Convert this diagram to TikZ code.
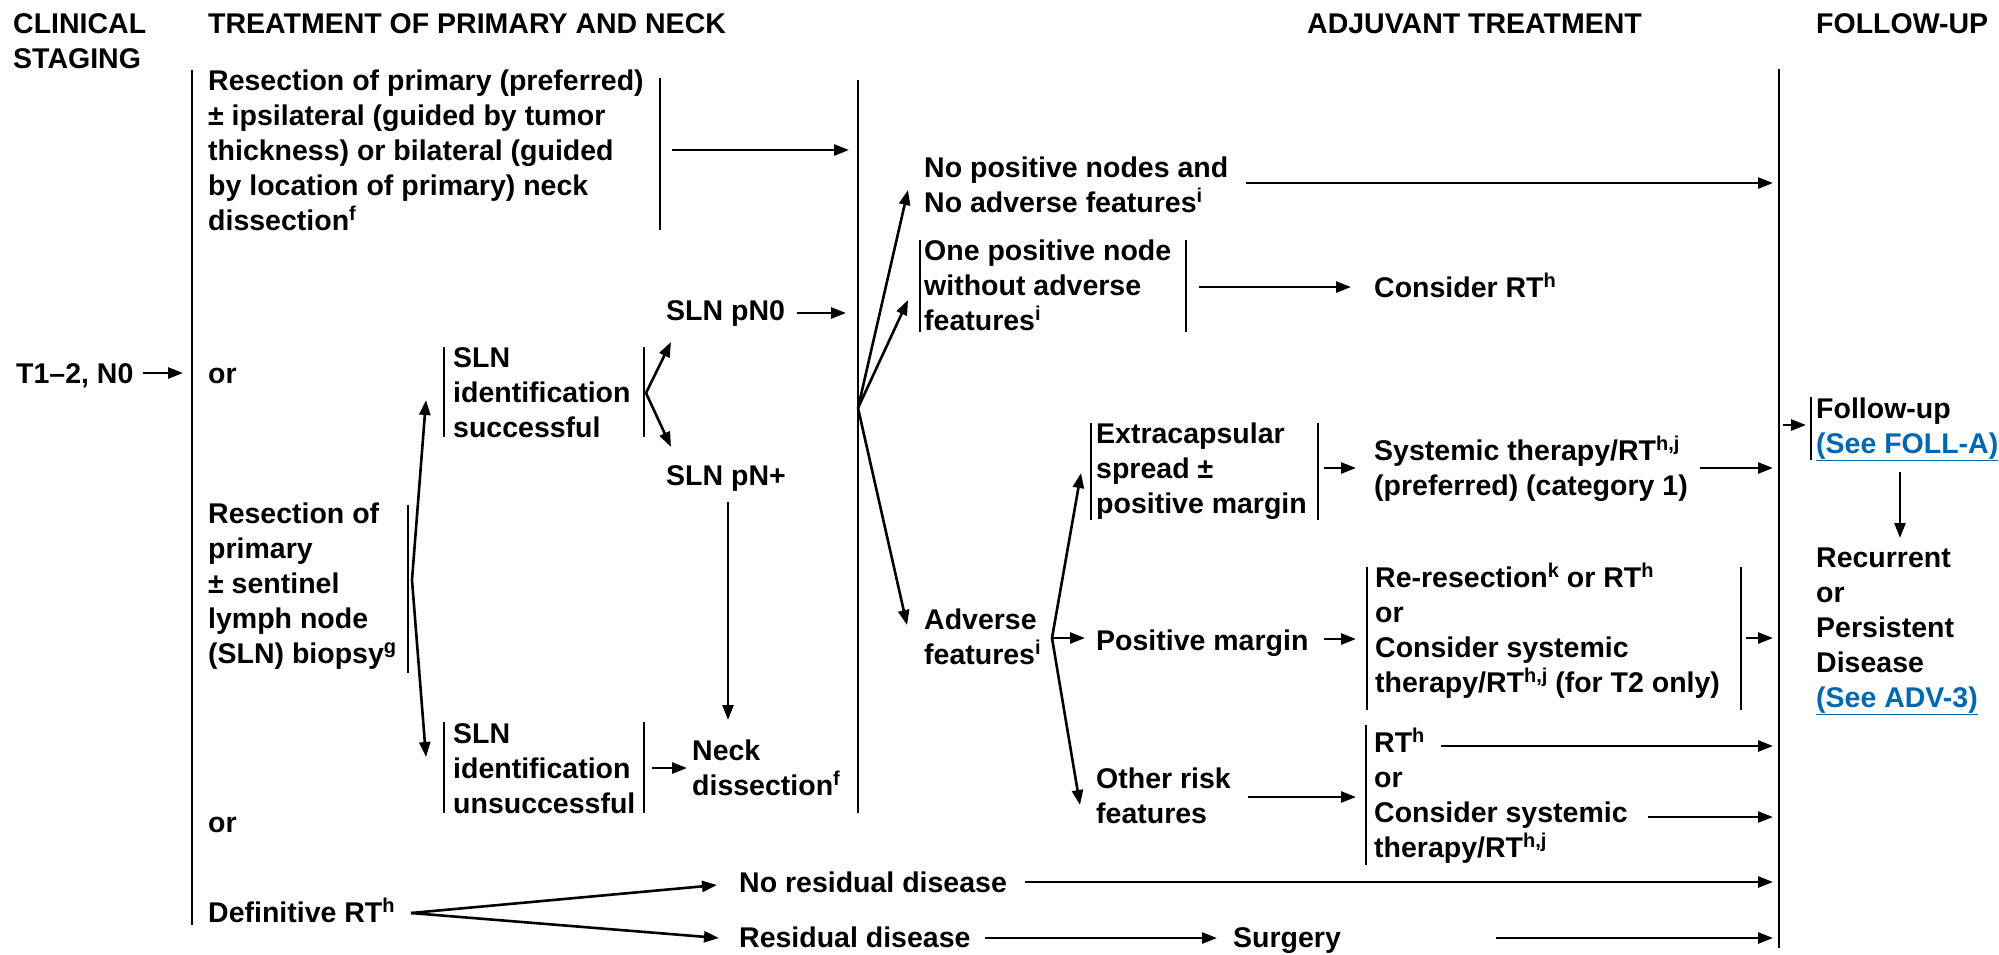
\documentclass[tikz,border=0pt]{standalone}
\usepackage{fontspec}
\setmainfont{Liberation Sans}
\usetikzlibrary{arrows.meta}
\definecolor{linkblue}{RGB}{0,103,178}
% superscript footnote letters
\newcommand{\sps}[1]{\raisebox{10pt}{\fontsize{20}{20}\selectfont #1}}
% fixed first-line height so that every text block hangs from its first baseline
\newcommand{\fst}{\rule{0pt}{25pt}}
\newcommand{\lnk}[1]{{\color{linkblue}\underline{#1}}}

\begin{document}
\begin{tikzpicture}[x=1pt,y=-1pt,
  txt/.style={anchor=north west, inner sep=0pt, align=left,
              font=\bfseries\fontsize{28.5}{35}\selectfont},
  bar/.style={line width=2pt},
  wire/.style={line width=2.6pt},
  arr/.style={line width=2.6pt, -{Triangle[length=15pt,width=11pt]}}]
\useasboundingbox (0,0) rectangle (1999,954);

% ---------- column headings ----------
\node[txt] (hClin)  at (13,8)   {\fst CLINICAL\\STAGING};
\node[txt] (hTreat) at (208,8)  {\fst TREATMENT OF PRIMARY AND NECK};
\node[txt] (hAdj)   at (1307,8) {\fst ADJUVANT TREATMENT};
\node[txt] (hFol)   at (1816,8) {\fst FOLLOW-UP};

% ---------- main separators ----------
\coordinate (sepAt) at (192,70);   \coordinate (sepAb) at (192,925);
\coordinate (sepBt) at (858,80);   \coordinate (sepBb) at (858,813);
\coordinate (sepCt) at (1779,69);  \coordinate (sepCb) at (1779,948);
\draw[bar] (sepAt) -- (sepAb);
\draw[bar] (sepBt) -- (sepBb);
\draw[bar] (sepCt) -- (sepCb);

% ---------- clinical staging ----------
\node[txt] (stage) at (16,358) {\fst T1--2, N0};
\coordinate (stageA) at (143,373); \coordinate (stageB) at (183,373);
\draw[arr] (stageA) -- (stageB);

% ---------- primary and neck ----------
\node[txt] (resA) at (208,65) {\fst Resection of primary (preferred)\\
  ± ipsilateral (guided by tumor\\thickness) or bilateral (guided\\
  by location of primary) neck\\dissection\sps{f}};
\draw[bar] (660,78) -- (660,230);
\coordinate (resAout) at (672,150); \coordinate (resAin) at (849,150);
\draw[arr] (resAout) -- (resAin);

\node[txt] (or1) at (208,358) {\fst or};

\node[txt] (resB) at (208,498) {\fst Resection of\\primary\\± sentinel\\lymph node\\(SLN) biopsy\sps{g}};
\draw[bar] (408,505) -- (408,673);
\coordinate (resBfork) at (412,580);
\coordinate (slnStip) at (426,400);
\coordinate (slnUtip) at (426,757);

\node[txt] (slnS) at (453,342) {\fst SLN\\identification\\successful};
\draw[bar] (444,347) -- (444,437);
\draw[bar] (644,347) -- (644,437);
\draw[arr] (resBfork) -- (slnStip);
\draw[arr] (resBfork) -- (slnUtip);

\coordinate (slnSfork) at (646,393);
\coordinate (pn0tip) at (671,342);
\coordinate (pnptip) at (671,447);
\draw[arr] (slnSfork) -- (pn0tip);
\draw[arr] (slnSfork) -- (pnptip);

\node[txt] (pn0) at (666,295) {\fst SLN pN0};
\coordinate (pn0out) at (797,313); \coordinate (pn0in) at (846,313);
\draw[arr] (pn0out) -- (pn0in);

\node[txt] (pnp) at (666,460) {\fst SLN pN+};
\coordinate (pnpout) at (728,502); \coordinate (neckTop) at (728,720);
\draw[arr] (pnpout) -- (neckTop);

\node[txt] (slnU) at (453,718) {\fst SLN\\identification\\unsuccessful};
\draw[bar] (444,722) -- (444,813);
\draw[bar] (644,722) -- (644,813);
\coordinate (slnUout) at (652,768); \coordinate (neckIn) at (687,768);
\draw[arr] (slnUout) -- (neckIn);

\node[txt] (neck) at (692,735) {\fst Neck\\dissection\sps{f}};

\node[txt] (or2) at (208,807) {\fst or};

\node[txt] (defRT) at (208,897) {\fst Definitive RT\sps{h}};
\coordinate (defFork) at (411,913);
\coordinate (noResTip) at (717,885);
\coordinate (resTip) at (719,938);
\draw[wire, -{Triangle[length=15pt,width=11pt]}] (defFork) -- (noResTip);
\draw[wire, -{Triangle[length=15pt,width=11pt]}] (defFork) -- (resTip);

\node[txt] (noRes) at (739,867) {\fst No residual disease};
\coordinate (noResOut) at (1025,882); \coordinate (noResEnd) at (1773,882);
\draw[arr] (noResOut) -- (noResEnd);

\node[txt] (res) at (739,922) {\fst Residual disease};
\coordinate (resOut) at (985,938); \coordinate (surgIn) at (1217,938);
\draw[arr] (resOut) -- (surgIn);

\node[txt] (surg) at (1233,922) {\fst Surgery};
\coordinate (surgOut) at (1496,938); \coordinate (surgEnd) at (1773,938);
\draw[arr] (surgOut) -- (surgEnd);

% ---------- pathology branches ----------
\coordinate (pathFork) at (858,408);
\coordinate (noPosTip) at (908,190);
\coordinate (onePosTip) at (908,300);
\coordinate (advTip) at (907,625);
\draw[arr] (pathFork) -- (noPosTip);
\draw[arr] (pathFork) -- (onePosTip);
\draw[arr] (pathFork) -- (advTip);

\node[txt] (noPos) at (924,152) {\fst No positive nodes and\\No adverse features\sps{i}};
\coordinate (noPosOut) at (1246,183); \coordinate (noPosEnd) at (1773,183);
\draw[arr] (noPosOut) -- (noPosEnd);

\node[txt] (onePos) at (924,235) {\fst One positive node\\without adverse\\features\sps{i}};
\draw[bar] (920,240) -- (920,332);
\draw[bar] (1186,240) -- (1186,332);
\coordinate (onePosOut) at (1199,287); \coordinate (consIn) at (1351,287);
\draw[arr] (onePosOut) -- (consIn);

\node[txt] (cons) at (1374,272) {\fst Consider RT\sps{h}};

\node[txt] (adv) at (924,604) {\fst Adverse\\features\sps{i}};
\coordinate (advFork) at (1052,638);
\coordinate (extraTip) at (1081,473);
\coordinate (posMTip) at (1085,638);
\coordinate (otherTip) at (1080,805);
\draw[arr] (advFork) -- (extraTip);
\draw[arr] (advFork) -- (posMTip);
\draw[arr] (advFork) -- (otherTip);

% ---------- adjuvant treatment ----------
\node[txt] (extra) at (1096,418) {\fst Extracapsular\\spread ±\\positive margin};
\draw[bar] (1091,423) -- (1091,520);
\draw[bar] (1318,423) -- (1318,520);
\coordinate (extraOut) at (1324,468); \coordinate (sysIn) at (1356,468);
\draw[arr] (extraOut) -- (sysIn);

\node[txt] (sys) at (1374,435) {\fst Systemic therapy/RT\sps{h,j}\\(preferred) (category 1)};
\coordinate (sysOut) at (1700,468); \coordinate (sysEnd) at (1773,468);
\draw[arr] (sysOut) -- (sysEnd);

\node[txt] (posM) at (1096,625) {\fst Positive margin};
\coordinate (posMOut) at (1324,639); \coordinate (reResIn) at (1356,639);
\draw[arr] (posMOut) -- (reResIn);

\node[txt] (reRes) at (1375,562) {\fst Re-resection\sps{k} or RT\sps{h}\\or\\Consider systemic\\
  therapy/RT\sps{h,j} (for T2 only)};
\draw[bar] (1367,567) -- (1367,710);
\draw[bar] (1741,567) -- (1741,710);
\coordinate (reResOut) at (1746,638); \coordinate (reResEnd) at (1773,638);
\draw[arr] (reResOut) -- (reResEnd);

\node[txt] (other) at (1096,763) {\fst Other risk\\features};
\coordinate (otherOut) at (1248,797); \coordinate (rtIn) at (1356,797);
\draw[arr] (otherOut) -- (rtIn);

\node[txt] (rtBox) at (1374,727) {\fst RT\sps{h}\\or\\Consider systemic\\therapy/RT\sps{h,j}};
\draw[bar] (1366,725) -- (1366,865);
\coordinate (rtOut) at (1441,746); \coordinate (rtEnd) at (1773,746);
\draw[arr] (rtOut) -- (rtEnd);
\coordinate (csOut) at (1648,817); \coordinate (csEnd) at (1773,817);
\draw[arr] (csOut) -- (csEnd);

% ---------- follow-up ----------
\coordinate (folOut) at (1783,425); \coordinate (folIn) at (1806,425);
\draw[arr] (folOut) -- (folIn);
\draw[bar] (1811,397) -- (1811,460);
\node[txt] (fol) at (1816,393) {\fst Follow-up\\\lnk{(See FOLL-A)}};
\coordinate (folDown) at (1900,472); \coordinate (recTop) at (1900,538);
\draw[arr] (folDown) -- (recTop);

\node[txt] (rec) at (1816,542) {\fst Recurrent\\or\\Persistent\\Disease\\\lnk{(See ADV-3)}};

\end{tikzpicture}
\end{document}
